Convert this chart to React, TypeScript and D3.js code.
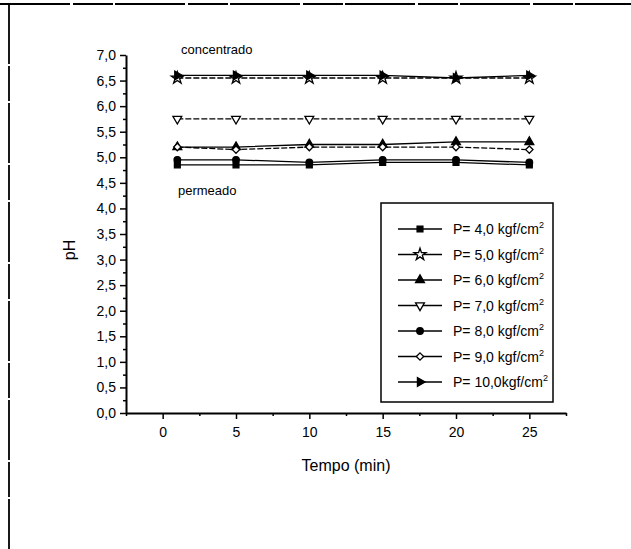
import React, { useEffect, useRef } from "react";
import * as d3 from "d3";

const times = [1, 5, 10, 15, 20, 25];
const seriesNames = [
  "P= 4,0 kgf/cm",
  "P= 5,0 kgf/cm",
  "P= 6,0 kgf/cm",
  "P= 7,0 kgf/cm",
  "P= 8,0 kgf/cm",
  "P= 9,0 kgf/cm",
  "P= 10,0kgf/cm",
];
const p4 = [4.85, 4.85, 4.85, 4.9, 4.9, 4.85];
const p5 = [6.55, 6.55, 6.55, 6.55, 6.55, 6.55];
const p6 = [5.2, 5.2, 5.25, 5.25, 5.3, 5.3];
const p7 = [5.75, 5.75, 5.75, 5.75, 5.75, 5.75];
const p8 = [4.95, 4.95, 4.9, 4.95, 4.95, 4.9];
const p9 = [5.2, 5.15, 5.2, 5.2, 5.2, 5.15];
const p10 = [6.6, 6.6, 6.6, 6.6, 6.55, 6.6];
const seriesValues = [p4, p5, p6, p7, p8, p9, p10];
const xTicks = [0, 5, 10, 15, 20, 25];
const yTicks = d3.range(0, 7.01, 0.5);

// symbol type, rotation, filled
const markers: [d3.SymbolType, number, boolean][] = [
  [d3.symbolSquare, 0, true],
  [d3.symbolStar, 0, false],
  [d3.symbolTriangle, 0, true],
  [d3.symbolTriangle, 180, false],
  [d3.symbolCircle, 0, true],
  [d3.symbolDiamond2, 0, false],
  [d3.symbolTriangle, 90, true],
];

const FONT = "'Liberation Sans', Arial, Helvetica, sans-serif";

export default function App() {
  const ref = useRef<SVGSVGElement>(null);
  useEffect(() => {
    const svg = d3.select(ref.current);
    svg.selectAll("*").remove();
    const W = 631, H = 549;
    svg.append("rect").attr("width", W).attr("height", H).attr("fill", "#fff");

    // page frame lines
    svg.append("line").attr("x1", 0).attr("x2", W).attr("y1", 4).attr("y2", 4)
      .attr("stroke", "#000").attr("stroke-width", 1.8).attr("stroke-dasharray", "70,3,40,2");
    svg.append("line").attr("x1", 9).attr("x2", 9).attr("y1", 4).attr("y2", H)
      .attr("stroke", "#000").attr("stroke-width", 1.8).attr("stroke-dasharray", "60,2,35,2");

    const x = d3.scaleLinear().domain([-2.5, 27.5]).range([126, 566]);
    const y = d3.scaleLinear().domain([0, 7]).range([413, 55]);
    const fmt = (v: number) => d3.format(".1f")(v).replace(".", ",");

    // x axis
    const gx = svg.append("g").attr("transform", `translate(0,${y(0)})`);
    gx.call(d3.axisBottom(x).tickValues(xTicks).tickSize(6).tickSizeOuter(0).tickFormat(d3.format("d")) as any);
    gx.append("g").call(d3.axisBottom(x).tickValues(d3.range(-2.5, 27.6, 2.5).filter(v => v % 5 !== 0)).tickSize(3).tickFormat(() => "") as any)
      .select(".domain").remove();
    gx.selectAll("text").attr("font-size", 14).attr("font-family", FONT).attr("dy", "1.1em").attr("fill", "#000");
    gx.selectAll("path.domain").attr("stroke-width", 2);
    gx.selectAll("line").attr("stroke-width", 1.5);

    // y axis
    const gy = svg.append("g").attr("transform", `translate(${x(-2.5)},0)`);
    gy.call(d3.axisLeft(y).tickValues(yTicks).tickSize(6).tickSizeOuter(0).tickFormat((d: any) => fmt(d)) as any);
    gy.append("g").call(d3.axisLeft(y).tickValues(d3.range(0.25, 7, 0.5)).tickSize(3).tickFormat(() => "") as any)
      .select(".domain").remove();
    gy.selectAll("text").attr("font-size", 14).attr("font-family", FONT).attr("fill", "#000").attr("x", -10);
    gy.selectAll("path.domain").attr("stroke-width", 2);
    gy.selectAll("line").attr("stroke-width", 1.5);

    // axis titles
    svg.append("text").attr("x", 346).attr("y", 471).attr("text-anchor", "middle")
      .attr("font-size", 16).attr("font-family", FONT).text("Tempo (min)");
    svg.append("text").attr("transform", `translate(75,250) rotate(-90)`).attr("text-anchor", "middle")
      .attr("font-size", 16).attr("font-family", FONT).text("pH");

    // annotations
    svg.append("text").attr("x", 181).attr("y", 54).attr("font-size", 13).attr("font-family", FONT).text("concentrado");
    svg.append("text").attr("x", 178).attr("y", 195).attr("font-size", 13).attr("font-family", FONT).text("permeado");

    const line = d3.line<number>().x((_, i) => x(times[i])).y(d => y(d));
    const sym = (i: number) => d3.symbol().type(markers[i][0]).size(markers[i][0] === d3.symbolStar ? 45 : 34)();

    seriesValues.forEach((vals, i) => {
      svg.append("path").attr("d", line(vals)!).attr("fill", "none")
        .attr("stroke", "#000").attr("stroke-width", 1.3)
        .attr("stroke-dasharray", i % 2 === 1 ? "6,2" : null);
      vals.forEach((v, j) => {
        svg.append("path").attr("d", sym(i)!)
          .attr("transform", `translate(${x(times[j])},${y(v)}) rotate(${markers[i][1]})`)
          .attr("fill", markers[i][2] ? "#000" : "#fff").attr("stroke", "#000").attr("stroke-width", 1.3);
      });
    });

    // legend
    const lg = svg.append("g");
    lg.append("rect").attr("x", 381).attr("y", 203).attr("width", 172).attr("height", 199)
      .attr("fill", "#fff").attr("stroke", "#000").attr("stroke-width", 1.5);
    seriesNames.forEach((name, i) => {
      const cy = 229 + i * 25.5;
      lg.append("line").attr("x1", 398).attr("x2", 442).attr("y1", cy).attr("y2", cy)
        .attr("stroke", "#000").attr("stroke-width", 1.3);
      lg.append("path").attr("d", sym(i)!)
        .attr("transform", `translate(420,${cy}) rotate(${markers[i][1]})`)
        .attr("fill", markers[i][2] ? "#000" : "#fff").attr("stroke", "#000").attr("stroke-width", 1.3);
      const t = lg.append("text").attr("x", 453).attr("y", cy + 5).attr("font-size", 14).attr("font-family", FONT);
      t.append("tspan").text(name);
      t.append("tspan").attr("dy", -6).attr("font-size", 9).text("2");
    });
  }, []);
  return (
    <svg ref={ref} width={631} height={549} style={{ position: "absolute", left: 0, top: 0, display: "block" }} />
  );
}
